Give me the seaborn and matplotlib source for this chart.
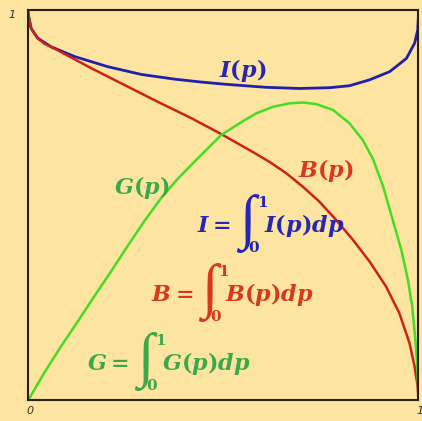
import matplotlib
matplotlib.use("Agg")
import matplotlib.pyplot as plt
import matplotlib.transforms as mtransforms
import seaborn as sns
import pandas as pd

# ---- data ----
p_I = [0.0, 0.001, 0.008, 0.025, 0.059, 0.119, 0.204, 0.290, 0.375, 0.439, 0.503,
       0.610, 0.695, 0.772, 0.823, 0.874, 0.926, 0.969, 0.990, 0.998, 1.0]
I_vals = [1.0, 0.988, 0.954, 0.929, 0.907, 0.882, 0.856, 0.836, 0.824, 0.817, 0.811,
          0.803, 0.800, 0.802, 0.807, 0.822, 0.843, 0.877, 0.916, 0.950, 0.99]

p_B = [0.0, 0.001, 0.008, 0.025, 0.042, 0.076, 0.162, 0.247, 0.332, 0.418, 0.495,
       0.576, 0.618, 0.661, 0.704, 0.746, 0.789, 0.832, 0.875, 0.917, 0.951, 0.977,
       0.990, 0.998, 1.0]
B_vals = [1.0, 0.988, 0.954, 0.928, 0.915, 0.898, 0.852, 0.809, 0.766, 0.724, 0.683,
          0.637, 0.612, 0.583, 0.548, 0.510, 0.463, 0.412, 0.356, 0.292, 0.224, 0.147,
          0.087, 0.035, 0.0]

p_G = [0.0, 0.041, 0.084, 0.127, 0.169, 0.212, 0.255, 0.298, 0.340, 0.383, 0.426,
       0.452, 0.495, 0.542, 0.584, 0.627, 0.670, 0.704, 0.738, 0.781, 0.823, 0.857,
       0.883, 0.909, 0.934, 0.956, 0.973, 0.984, 0.992, 0.997, 1.0]
G_vals = [0.0, 0.070, 0.138, 0.202, 0.266, 0.330, 0.396, 0.460, 0.518, 0.568, 0.612,
          0.638, 0.681, 0.711, 0.736, 0.753, 0.762, 0.764, 0.760, 0.745, 0.711, 0.668,
          0.620, 0.550, 0.463, 0.386, 0.309, 0.240, 0.155, 0.087, 0.01]

x_ticks = [0, 1]
x_tick_labels = ["0", "1"]
y_ticks = [1]
y_tick_labels = ["1"]

# ---- style ----
BG = "#FDE4A0"
plt.rcParams["mathtext.fontset"] = "custom"
plt.rcParams["mathtext.it"] = "DejaVu Serif:italic:bold"
plt.rcParams["mathtext.rm"] = "DejaVu Serif:bold"
plt.rcParams["mathtext.bf"] = "DejaVu Serif:bold"

fig = plt.figure(figsize=(4.22, 4.21), dpi=100, facecolor=BG)
ax = fig.add_axes([0.0664, 0.0487, 0.9253, 0.9264])
ax.set_facecolor(BG)

dfI = pd.DataFrame({"p": p_I, "v": I_vals})
dfB = pd.DataFrame({"p": p_B, "v": B_vals})
dfG = pd.DataFrame({"p": p_G, "v": G_vals})

sns.lineplot(data=dfI, x="p", y="v", ax=ax, color="#2020A8", lw=2.0, sort=False)
sns.lineplot(data=dfB, x="p", y="v", ax=ax, color="#CC2414", lw=1.8, sort=False)
sns.lineplot(data=dfG, x="p", y="v", ax=ax, color="#44DD22", lw=1.8, sort=False)

ax.set_xlim(0, 1)
ax.set_ylim(0, 1)
ax.set_xlabel("")
ax.set_ylabel("")
ax.set_xticks(x_ticks)
ax.set_xticklabels(x_tick_labels)
ax.set_yticks(y_ticks)
ax.set_yticklabels(y_tick_labels)
ax.tick_params(length=0, labelsize=8, labelcolor="#333333", pad=4)
ax.tick_params(axis="y", pad=9)
for lab in ax.get_xticklabels():
    lab.set_fontstyle("italic")
    lab.set_transform(lab.get_transform() + mtransforms.ScaledTranslation(2 / 100, 0, fig.dpi_scale_trans))
for lab in ax.get_yticklabels():
    lab.set_fontstyle("italic")
    lab.set_transform(lab.get_transform() + mtransforms.ScaledTranslation(0, -4 / 100, fig.dpi_scale_trans))
for s in ax.spines.values():
    s.set_color("#2A2018")
    s.set_linewidth(1.5)

blue_t = "#2626B4"
red_t = "#D8381C"
green_t = "#3CA84C"
fs = 16

ax.text(0.549, 0.845, r"$I(p)$", color=blue_t, fontsize=fs, ha="center", va="center")
ax.text(0.764, 0.589, r"$B(p)$", color=red_t, fontsize=fs, ha="center", va="center")
ax.text(0.291, 0.545, r"$G(p)$", color=green_t, fontsize=fs, ha="center", va="center")


def formula(x0, yb, letter, color):
    t1 = ax.text(x0, yb, rf"${letter}=$", color=color, fontsize=fs, ha="left", va="baseline")
    integ = ax.annotate("\u222b", xy=(1, yb), xycoords=(t1, "data"), xytext=(8, -6),
                        textcoords="offset pixels", fontsize=43, family="Liberation Serif",
                        color=color, ha="left", va="baseline")
    ax.annotate("1", xy=(1, yb), xycoords=(integ, "data"), xytext=(1, 25),
                textcoords="offset pixels", fontsize=11, family="DejaVu Serif",
                weight="bold", color=color, ha="left", va="baseline")
    ax.annotate("0", xy=(1, yb), xycoords=(integ, "data"), xytext=(-7, -20),
                textcoords="offset pixels", fontsize=11, family="DejaVu Serif",
                weight="bold", color=color, ha="left", va="baseline")
    ax.annotate(rf"${letter}(p)dp$", xy=(1, yb), xycoords=(integ, "data"), xytext=(8, 0),
                textcoords="offset pixels", color=color, fontsize=fs, ha="left", va="baseline")


formula(0.434, 0.431, "I", blue_t)
formula(0.314, 0.255, "B", red_t)
formula(0.152, 0.078, "G", green_t)

fig.savefig("out.png", dpi=100, facecolor=BG)
